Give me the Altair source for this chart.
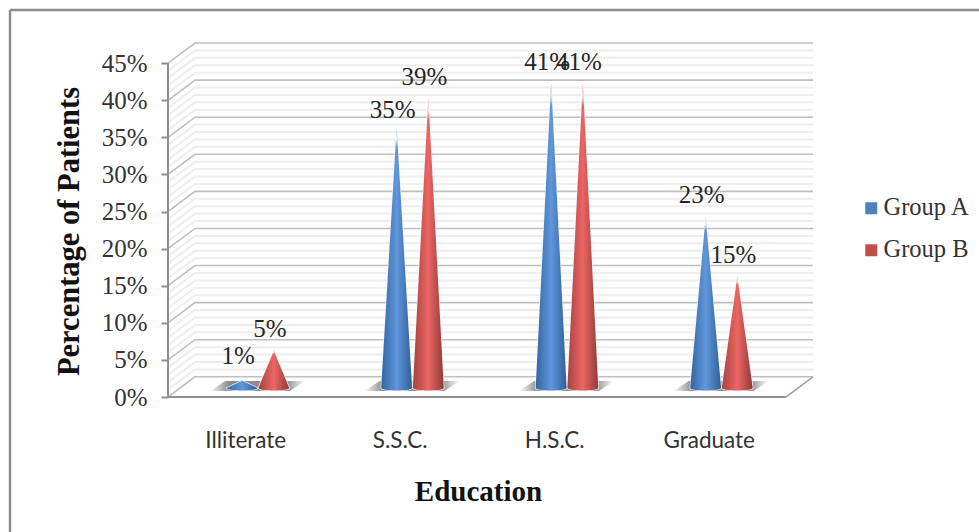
import json
import numpy as np
import pandas as pd
import altair as alt

categories = ["Illiterate", "S.S.C.", "H.S.C.", "Graduate"]
groups = ["Group A", "Group B"]
group_a = [1, 35, 41, 23]
group_b = [5, 39, 41, 15]
y_ticks = [0, 5, 10, 15, 20, 25, 30, 35, 40, 45]

group_colors = ["#4F81BD", "#C0504D"]
blue_stops = ["#33669f", "#6097dc", "#2f5f96"]
red_stops = ["#a54340", "#ec6664", "#8f3a38"]
FONT = "Liberation Serif"

# oblique projection of the box: depth expressed in axis units
DEPTH_X = 0.175
DEPTH_Y = 2.72
CONE_FLOOR = 1.2
CONE_RADIUS = 0.1
CONE_OFFSET = {"Group A": 0.48, "Group B": 0.685}

x_scale = alt.Scale(domain=[0, 4 + DEPTH_X], nice=False, zero=False)
y_scale = alt.Scale(domain=[0, 45 + DEPTH_Y], nice=False, zero=False)

x_axis = alt.Axis(
    values=[0.5, 1.5, 2.5, 3.5],
    labelExpr=f"{json.dumps(categories)}[floor(datum.value)]",
    labelFont="Lato",
    labelFontSize=22.5,
    labelColor="#333333",
    labelPadding=32,
    labelOverlap=False,
    labelFlush=False,
    ticks=False,
    domain=False,
    grid=False,
    title="Education",
    titleFont=FONT,
    titleFontSize=29,
    titleFontWeight="bold",
    titleColor="#111111",
    titleX=310,
    titleY=80,
)
y_axis = alt.Axis(
    values=y_ticks,
    labelExpr="datum.value + '%'",
    labelFont=FONT,
    labelFontSize=25,
    labelColor="#333333",
    labelPadding=14,
    tickSize=7,
    tickWidth=2,
    tickColor="#8f8f8f",
    domain=False,
    grid=False,
    title="Percentage of Patients",
    titleFont=FONT,
    titleFontSize=30.5,
    titleFontWeight="bold",
    titleColor="#111111",
    titleX=-84,
    titleY=188,
)
X = alt.X("x:Q", scale=x_scale, axis=x_axis)
Y = alt.Y("y:Q", scale=y_scale, axis=y_axis, stack=None)


def wall_line(level):
    return [(0, level), (DEPTH_X, level + DEPTH_Y), (4 + DEPTH_X, level + DEPTH_Y)]


def wall_frame(levels):
    return pd.DataFrame(
        [{"x": x, "y": y, "level": lv, "step": k}
         for lv in levels for k, (x, y) in enumerate(wall_line(lv))]
    )


def wall_layer(levels, color, width):
    return alt.Chart(wall_frame(levels)).mark_line(color=color, strokeWidth=width).encode(
        x=X, y=Y, detail="level:N", order="step:Q"
    )


minor_levels = [v for v in range(46) if v % 5]
walls = wall_layer(minor_levels, "#eeeeee", 2) + wall_layer(y_ticks, "#bfbfbf", 1.6)

# axis box edges drawn in front of the walls
edges = pd.DataFrame(
    [
        {"x": 0, "y": 0, "edge": "left", "step": 0},
        {"x": 0, "y": 45, "edge": "left", "step": 1},
        {"x": 0, "y": 0, "edge": "front", "step": 0},
        {"x": 4, "y": 0, "edge": "front", "step": 1},
    ]
)
edge_layer = alt.Chart(edges).mark_line(color="#8f8f8f", strokeWidth=2).encode(
    x=X, y=Y, detail="edge:N", order="step:Q"
)
side = pd.DataFrame({"x": [4, 4 + DEPTH_X], "y": [0, DEPTH_Y]})
side_layer = alt.Chart(side).mark_line(color="#a6a6a6", strokeWidth=1.6).encode(x=X, y=Y)

# soft floor shadow behind each pair of cones
shadow_grad = alt.Gradient(
    gradient="linear", x1=0, x2=1, y1=0, y2=0,
    stops=[
        alt.GradientStop(offset=0, color="rgba(110,110,110,0)"),
        alt.GradientStop(offset=0.2, color="rgba(110,110,110,0.8)"),
        alt.GradientStop(offset=0.8, color="rgba(110,110,110,0.8)"),
        alt.GradientStop(offset=1, color="rgba(110,110,110,0)"),
    ],
)
shadow_rows = []
for i, cat in enumerate(categories):
    for fx, lo, hi in [(0.27, 0.8, 0.8), (0.37, 0.8, 2.15), (0.79, 0.8, 2.15), (0.888, 2.15, 2.15)]:
        shadow_rows.append({"x": i + fx, "y": hi, "y2": lo, "cat": cat})
shadows = alt.Chart(pd.DataFrame(shadow_rows)).mark_area(color=shadow_grad).encode(
    x=X, y=Y, y2="y2:Q", detail="cat:N"
)

# cone outlines: straight sides up to the apex, elliptical base below
cone_rows, label_rows = [], []
for g, values in zip(groups, [group_a, group_b]):
    for i, (cat, v) in enumerate(zip(categories, values)):
        centre = i + CONE_OFFSET[g]
        for t in np.linspace(-1, 1, 41):
            cone_rows.append(
                {
                    "x": centre + CONE_RADIUS * t,
                    "y": CONE_FLOOR + v * (1 - abs(t)),
                    "y2": CONE_FLOOR - 0.32 * np.sqrt(max(0.0, 1 - t * t)),
                    "group": g,
                    "cone": f"{g} {cat}",
                }
            )
        label_rows.append({"x": centre, "y": CONE_FLOOR + v, "label": f"{v}%", "group": g})
cones = pd.DataFrame(cone_rows)

solid = alt.Chart(cones).mark_area(stroke="#f4f4f4", strokeWidth=1.4).encode(
    x=X,
    y=Y,
    y2="y2:Q",
    detail="cone:N",
    color=alt.Color(
        "group:N",
        scale=alt.Scale(domain=groups, range=group_colors),
        legend=alt.Legend(
            title=None,
            orient="none",
            legendX=691,
            legendY=153,
            symbolType="square",
            symbolSize=144,
            symbolStrokeWidth=0,
            labelFont=FONT,
            labelFontSize=24.5,
            labelColor="#333333",
            labelOffset=0,
            rowPadding=17,
            padding=0,
        ),
    ),
)

shaded = []
for cone_id, part in cones.groupby("cone"):
    tones = blue_stops if cone_id.startswith("Group A") else red_stops
    body = alt.Gradient(
        gradient="linear", x1=0, x2=1, y1=0, y2=0,
        stops=[
            alt.GradientStop(offset=0, color=tones[0]),
            alt.GradientStop(offset=0.5, color=tones[1]),
            alt.GradientStop(offset=1, color=tones[2]),
        ],
    )
    fade = alt.Gradient(
        gradient="linear", x1=0, x2=0, y1=0, y2=1,
        stops=[
            alt.GradientStop(offset=0, color="rgba(255,255,255,1)"),
            alt.GradientStop(offset=0.04, color="rgba(255,255,255,0.9)"),
            alt.GradientStop(offset=0.07, color="rgba(255,255,255,0)"),
            alt.GradientStop(offset=1, color="rgba(255,255,255,0)"),
        ],
    )
    base = alt.Chart(part)
    shaded.append(base.mark_area(color=body).encode(x=X, y=Y, y2="y2:Q"))
    shaded.append(base.mark_area(color=fade).encode(x=X, y=Y, y2="y2:Q"))

label_frame = pd.DataFrame(label_rows)
label_layers = [
    alt.Chart(label_frame[sel]).mark_text(
        font=FONT, fontSize=25, color="#262626", dx=-4, dy=lift, baseline="middle"
    ).encode(x=X, y=Y, text="label:N")
    for sel, lift in [
        (label_frame["label"] == "35%", -18),
        (label_frame["label"] == "1%", -25),
        (~label_frame["label"].isin(["35%", "1%"]), -22),
    ]
]

# outer chart border: top and left sides only
anchor = pd.DataFrame({"x": [0.5], "y": [0]})
border_top = alt.Chart(anchor).mark_rule(color="#8c8c8c", strokeWidth=2.4).encode(
    x=alt.value(-158), x2=alt.value(811), y=alt.value(-33)
)
border_left = alt.Chart(anchor).mark_rule(color="#8c8c8c", strokeWidth=2.4).encode(
    x=alt.value(-158), y=alt.value(-33), y2=alt.value(489)
)

chart = alt.layer(
    walls, shadows, edge_layer, side_layer, solid, *shaded, *label_layers, border_top, border_left
).properties(
    width=645,
    height=354,
    padding={"left": 168, "top": 43, "right": 166, "bottom": 135},
    autosize="none",
    background="#ffffff",
).configure_view(stroke=None)

chart.save("out.html", embed_options={"renderer": "svg", "actions": False})
